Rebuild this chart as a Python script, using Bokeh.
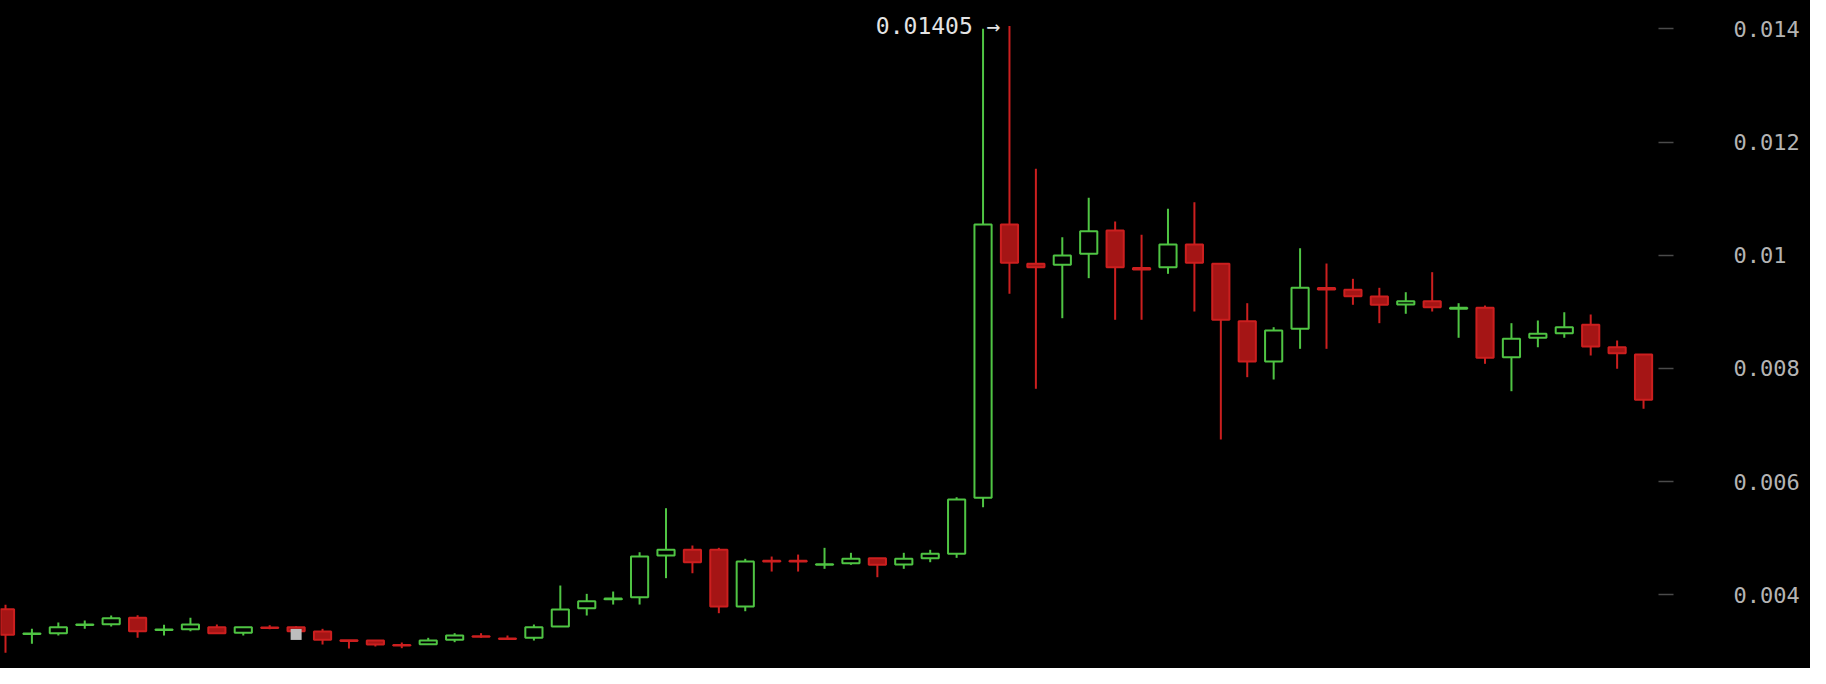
from bokeh.plotting import figure
from bokeh.models import ColumnDataSource, Range1d, FixedTicker
from bokeh.embed import file_html
from bokeh.resources import INLINE
from bokeh.core.properties import value

# ---- data ----
opens = [0.003746, 0.003306, 0.003321, 0.003465, 0.003481, 0.003593, 0.003376, 0.003392,
         0.003428, 0.003329, 0.003422, 0.003428, 0.003351, 0.003197, 0.003192, 0.003115,
         0.003127, 0.003205, 0.003268, 0.003228, 0.003240, 0.003440, 0.003763, 0.003920,
         0.003957, 0.004694, 0.004795, 0.004795, 0.003793, 0.004600, 0.004600, 0.004530,
         0.004558, 0.004646, 0.004535, 0.004646, 0.004724, 0.005714, 0.010542, 0.009848,
         0.009830, 0.010025, 0.010436, 0.009774, 0.009788, 0.010189, 0.009848, 0.008834,
         0.008122, 0.008700, 0.009420, 0.009389, 0.009270, 0.009129, 0.009187, 0.009053,
         0.009071, 0.008198, 0.008541, 0.008622, 0.008770, 0.008375, 0.008246]
highs = [0.003823, 0.003399, 0.003510, 0.003546, 0.003634, 0.003639, 0.003470, 0.003593,
         0.003475, 0.003430, 0.003463, 0.003445, 0.003399, 0.003199, 0.003195, 0.003157,
         0.003240, 0.003322, 0.003322, 0.003281, 0.003475, 0.004164, 0.004017, 0.004058,
         0.004752, 0.005530, 0.004871, 0.004830, 0.004636, 0.004676, 0.004711, 0.004830,
         0.004742, 0.004650, 0.004742, 0.004795, 0.005724, 0.014000, 0.014050, 0.011527,
         0.010318, 0.011014, 0.010595, 0.010360, 0.010820, 0.010936, 0.009855, 0.009152,
         0.008728, 0.010124, 0.009853, 0.009583, 0.009424, 0.009346, 0.009700, 0.009152,
         0.009111, 0.008799, 0.008846, 0.008993, 0.008952, 0.008493, 0.008250]
lows = [0.002975, 0.003134, 0.003281, 0.003399, 0.003440, 0.003240, 0.003281, 0.003357,
        0.003311, 0.003281, 0.003392, 0.003350, 0.003122, 0.003051, 0.003087, 0.003057,
        0.003125, 0.003163, 0.003240, 0.003205, 0.003192, 0.003435, 0.003634, 0.003828,
        0.003828, 0.004294, 0.004381, 0.003675, 0.003710, 0.004411, 0.004411, 0.004459,
        0.004530, 0.004311, 0.004459, 0.004576, 0.004653, 0.005549, 0.009318, 0.007640,
        0.008887, 0.009594, 0.008859, 0.008859, 0.009671, 0.009005, 0.006744, 0.007845,
        0.007804, 0.008346, 0.008346, 0.009124, 0.008799, 0.008965, 0.009005, 0.008541,
        0.008081, 0.007597, 0.008375, 0.008541, 0.008228, 0.007993, 0.007286]
closes = [0.003293, 0.003316, 0.003427, 0.003475, 0.003586, 0.003357, 0.003386, 0.003475,
          0.003322, 0.003428, 0.003412, 0.003357, 0.003205, 0.003185, 0.003122, 0.003105,
          0.003192, 0.003281, 0.003258, 0.003218, 0.003428, 0.003740, 0.003887, 0.003935,
          0.004676, 0.004795, 0.004576, 0.003793, 0.004588, 0.004588, 0.004590, 0.004540,
          0.004636, 0.004530, 0.004636, 0.004724, 0.005684, 0.010542, 0.009866, 0.009788,
          0.009995, 0.010424, 0.009788, 0.009747, 0.010189, 0.009866, 0.008859, 0.008122,
          0.008670, 0.009424, 0.009394, 0.009276, 0.009124, 0.009187, 0.009081, 0.009071,
          0.008187, 0.008523, 0.008611, 0.008728, 0.008387, 0.008269, 0.007445]

tick_values = [0.004, 0.006, 0.008, 0.010, 0.012, 0.014]
tick_labels = ["0.004", "0.006", "0.008", "0.01", "0.012", "0.014"]

cursor_idx = [11]
cursor_val = [0.0033]

# ---- styles ----
GREEN = "#4fc443"
RED_LINE = "#cc1f1f"
RED_FILL = "#a51515"
BG = "#000000"

n = len(opens)
idx = list(range(n))
up = [c >= o for o, c in zip(opens, closes)]
src = ColumnDataSource(dict(
    x=idx,
    top=[max(o, c) for o, c in zip(opens, closes)],
    bottom=[min(o, c) for o, c in zip(opens, closes)],
    high=highs,
    low=lows,
    line=[GREEN if u else RED_LINE for u in up],
    fill=[BG if u else RED_FILL for u in up],
))

p = figure(width=1810, height=668, output_backend="svg", toolbar_location=None,
           x_axis_location=None, y_axis_location="right",
           x_range=Range1d(-0.1892, 62.566), y_range=Range1d(0.002698, 0.014500),
           min_border=0, min_border_right=152)
p.styles = {"background-color": BG}
p.background_fill_color = None
p.border_fill_color = None
p.outline_line_color = None
p.grid.visible = False

p.segment(x0="x", y0="low", x1="x", y1="high", line_color="line", line_width=2, source=src)
p.vbar(x="x", top="top", bottom="bottom", width=0.65, fill_color="fill",
       line_color="line", line_width=2, source=src)

p.scatter(x=cursor_idx, y=cursor_val, marker="square", size=11,
          fill_color="#bdbdbd", line_color=None)

imax = max(range(n), key=lambda i: highs[i])
p.text(x=[imax], y=[highs[imax]], text=[f"{highs[imax]:.5f} \u2192"],
       text_align="right", text_baseline="middle", x_offset=-9,
       text_font=value("DejaVu Sans Mono"), text_font_size="23px", text_color="#e4e4e4")

ax = p.yaxis[0]
ax.ticker = FixedTicker(ticks=tick_values)
ax.major_label_overrides = {v: l for v, l in zip(tick_values, tick_labels)}
ax.axis_line_color = None
ax.minor_tick_line_color = None
ax.major_tick_in = 0
ax.major_tick_out = 15
ax.major_tick_line_color = "#4a4a4a"
ax.major_tick_line_width = 1.5
ax.major_label_standoff = 60
ax.major_label_text_font = "DejaVu Sans Mono"
ax.major_label_text_font_size = "22px"
ax.major_label_text_color = "#b4b4b4"

open("out.html", "w").write(file_html(p, INLINE))
